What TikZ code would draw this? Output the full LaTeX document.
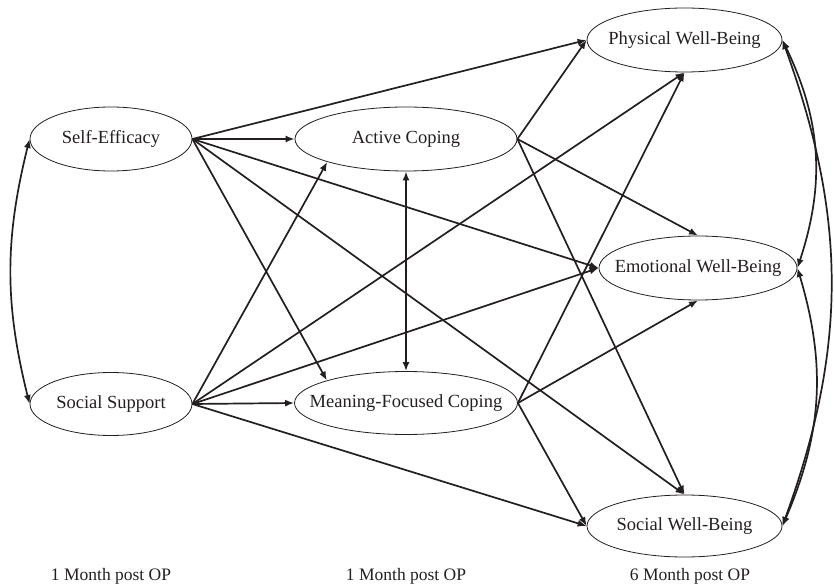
\documentclass[tikz,border=0pt]{standalone}
\usepackage{fontspec}
\setmainfont{Liberation Serif}
\usepackage{xcolor}
\usepackage{tikz}
\usetikzlibrary{arrows.meta,positioning,shapes.geometric}
\definecolor{semink}{HTML}{231F20}

\begin{document}
\begin{tikzpicture}[x=1pt, y=1pt,
      latent/.style={draw=semink, ellipse, line width=0.8pt, inner sep=0pt,
                     font=\fontsize{18.5}{22}\selectfont, text=semink},
      wave/.style={font=\fontsize{17.5}{21}\selectfont, text=semink, anchor=base},
      arr/.style={-{Latex[length=9pt,width=7pt]}, line width=1.7pt, semink},
      cov/.style={{Latex[length=9pt,width=7pt]}-{Latex[length=9pt,width=7pt]}, line width=1.7pt, semink}]
    \useasboundingbox (0,0) rectangle (834,584);
    % predictors and mediators
    \node[latent, minimum width=162pt, minimum height=64pt] (selfeff) at (111,445) {\makebox[0pt]{Self-Efficacy}};
    \node[latent, minimum width=162pt, minimum height=63pt] (socsup)  at (111,180) {\makebox[0pt]{Social Support}};
    \node[latent, minimum width=222pt, minimum height=64pt] (active)  at (406,445) {\makebox[0pt]{Active Coping}};
    \node[latent, minimum width=223pt, minimum height=63pt] (meaning) at (406,181) {\makebox[0pt]{Meaning-Focused Coping}};
    % outcomes
    \node[latent, minimum width=195pt, minimum height=64pt] (phys)  at (684.5,544) {\makebox[0pt]{Physical Well-Being}};
    \node[latent, minimum width=198pt, minimum height=64pt] (emot)  at (698,316)   {\makebox[0pt]{Emotional Well-Being}};
    \node[latent, minimum width=195pt, minimum height=62pt] (socwb) at (684.5,58)  {\makebox[0pt]{Social Well-Being}};
    % time points
    \node[wave] (t1) at (111,4) {1 Month post OP};
    \node[wave] (t2) at (406,4) {1 Month post OP};
    \node[wave] (t3) at (690,4) {6 Month post OP};
    % paths from self-efficacy
    \draw[arr] (selfeff.east) -- (phys.west);
    \draw[arr] (selfeff.east) -- (active.west);
    \draw[arr] (selfeff.east) -- (emot.west);
    \draw[arr] (selfeff.east) -- (meaning.north west);
    \draw[arr] (selfeff.east) -- (socwb.north);
    % paths from social support
    \draw[arr] (socsup.east) -- (active.south west);
    \draw[arr] (socsup.east) -- (phys.south);
    \draw[arr] (socsup.east) -- (emot.west);
    \draw[arr] (socsup.east) -- (meaning.west);
    \draw[arr] (socsup.east) -- (socwb.west);
    % paths from the coping nodes
    \draw[arr] (active.east) -- (phys.west);
    \draw[arr] (active.east) -- (emot.north);
    \draw[arr] (active.east) -- (socwb.north);
    \draw[arr] (meaning.east) -- (phys.south);
    \draw[arr] (meaning.east) -- (emot.south);
    \draw[arr] (meaning.east) -- (socwb.west);
    % covariances
    \draw[cov] (selfeff.west) to[bend right=14] (socsup.west);
    \draw[cov] (active.south) -- (meaning.north);
    \draw[cov] (phys.east) to[bend left=22] (emot.east);
    \draw[cov] (emot.east) to[bend left=20] (socwb.east);
    \draw[cov] (phys.east) to[bend left=20] (socwb.east);
  \end{tikzpicture}
\end{document}
